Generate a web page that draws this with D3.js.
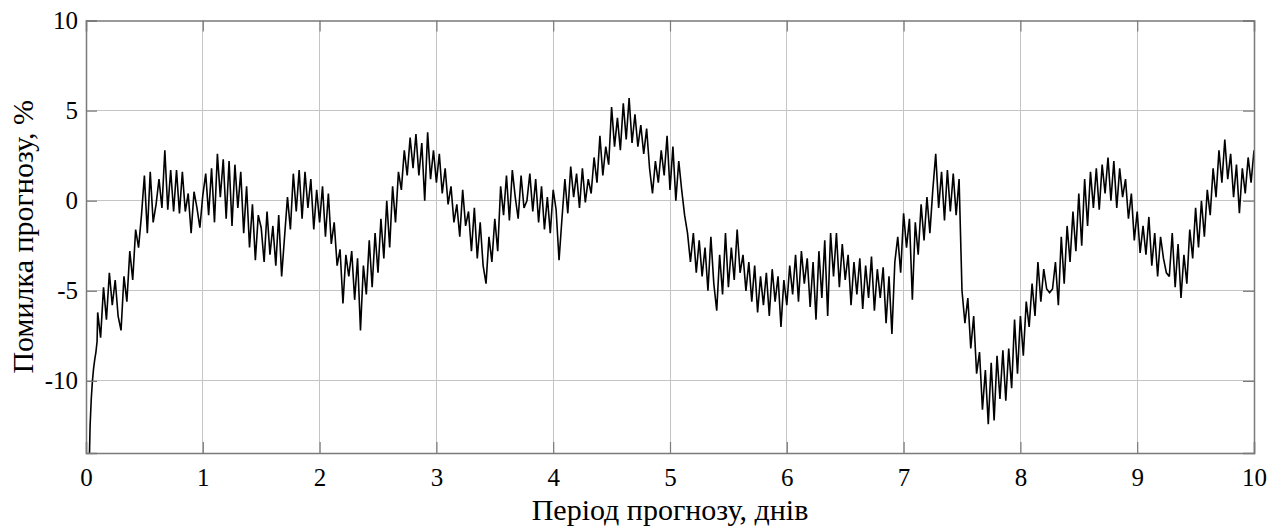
<!DOCTYPE html>
<html>
<head>
<meta charset="utf-8">
<script src="https://cdn.jsdelivr.net/npm/d3@7"></script>
<style>
  html, body { margin: 0; padding: 0; background: #fff; }
  svg { display: block; }
  text { font-family: "Liberation Serif", "Times New Roman", serif; fill: #000; }
</style>
</head>
<body>
<svg id="chart" width="1269" height="526"></svg>
<script>
// ---------------- data ----------------
const xTicks = [0, 1, 2, 3, 4, 5, 6, 7, 8, 9, 10];
const yTicks = [10, 5, 0, -5, -10];
const xLabel = "Період прогнозу, днів";
const yLabel = "Помилка прогнозу, %";

// initial steep start (day, error %)
const startDays = [0.03, 0.035, 0.045, 0.055, 0.065, 0.075, 0.085, 0.095];
const startErr  = [-14, -12.5, -11, -10, -9.3, -8.8, -8.4, -7.8];

// regular samples, every 0.025 day starting from day 0.1
const sampleStart = 0.1;
const sampleStep = 0.025;
const err = [
  -6.2,-7.6,-4.8,-6.6,-4.0,-5.8,-4.4,-6.4,-7.2,-4.2,-5.6,-2.8,-4.4,-1.6,-2.6,-0.8,
  1.4,-1.8,1.6,-1.2,-0.2,1.2,-0.4,2.8,-0.5,1.7,-0.6,1.7,-0.7,1.6,-0.6,0.4,-1.8,0.5,-0.4,-1.5,
  0.3,1.5,-0.8,1.8,-1.2,2.6,0.2,2.3,-1.0,2.2,-1.4,2.0,-0.4,1.6,-1.8,0.8,-2.6,-0.2,-3.3,-0.8,
  -1.5,-3.4,-0.6,-3.0,-1.4,-3.6,-0.8,-4.2,-2.0,0.2,-1.6,1.5,-0.6,1.7,-1.0,1.6,-0.4,1.2,-1.6,0.6,
  -1.2,0.8,-2.0,0.4,-2.4,-1.2,-3.6,-2.7,-5.7,-3.0,-4.2,-2.8,-5.5,-3.2,-7.2,-3.6,-5.2,-2.2,-4.8,-1.8,
  -4.0,-1.0,-3.2,0.0,-2.6,0.8,-1.2,1.6,0.6,2.8,1.4,3.5,1.8,3.7,1.4,3.2,0.0,3.8,1.2,2.8,
  1.0,2.6,0.4,1.8,-0.2,0.8,-1.2,-0.2,-2.0,0.6,-1.4,-0.6,-2.8,-0.4,-3.2,-1.2,-3.6,-4.6,-2.0,-3.4,
  -1.0,-2.8,0.8,-0.8,1.4,-1.1,1.7,0.2,-1.0,1.4,-0.4,0.0,1.5,-0.6,1.2,-1.2,0.8,-1.6,0.2,-1.8,
  0.6,-0.5,-3.3,-1.0,1.2,-0.7,1.9,0.2,1.5,-0.4,1.8,-0.1,1.2,0.4,2.4,1.0,3.6,1.4,3.0,2.0,
  5.2,3.0,4.6,2.8,5.4,3.4,5.7,3.2,4.8,3.0,4.2,2.6,4.0,1.8,0.4,2.2,1.0,2.8,1.4,3.6,
  0.6,3.0,0.0,2.2,0.6,-0.8,-1.8,-3.4,-1.8,-4.0,-2.2,-4.2,-2.6,-5.0,-2.0,-4.6,-6.1,-3.0,-5.2,-1.8,
  -4.8,-2.6,-4.4,-1.6,-4.0,-3.0,-5.0,-3.4,-5.6,-3.6,-6.2,-4.2,-5.8,-4.0,-6.4,-3.8,-5.6,-4.2,-7.0,-4.4,
  -5.8,-3.6,-5.2,-3.0,-5.6,-2.8,-4.6,-3.2,-5.9,-3.4,-6.6,-2.8,-5.4,-2.2,-6.4,-1.8,-4.2,-1.8,-4.8,-2.4,
  -4.4,-3.0,-5.8,-3.4,-5.2,-3.2,-6.0,-3.6,-5.4,-3.1,-6.1,-3.8,-5.4,-3.7,-6.8,-4.2,-7.4,-3.4,-2.0,-4.0,
  -0.7,-2.6,-1.0,-5.5,-1.2,-3.0,-0.2,-2.2,0.2,-1.8,0.6,2.6,-0.4,1.6,-1.1,1.7,-0.6,1.5,-0.8,1.2,
  -5.0,-6.8,-5.4,-8.2,-6.4,-9.6,-8.4,-11.6,-9.4,-12.4,-9.0,-12.2,-8.6,-11.0,-8.3,-11.1,-8.2,-10.4,-6.6,-9.6,
  -6.4,-8.6,-5.6,-7.0,-4.6,-6.4,-3.4,-5.6,-3.8,-4.9,-5.1,-4.9,-3.4,-5.8,-2.0,-4.6,-1.4,-3.4,-0.6,-2.8,
  0.4,-2.5,1.2,-1.4,1.6,-0.4,1.8,-0.5,2.0,0.4,2.4,0.0,2.2,-0.4,1.8,0.2,1.2,-1.0,0.4,-2.2,
  -0.6,-2.9,-1.4,-3.0,-0.9,-3.6,-1.8,-4.2,-2.0,-3.2,-4.0,-4.2,-1.8,-4.8,-2.4,-5.4,-3.0,-4.6,-1.6,-3.2,
  -0.4,-2.6,0.0,-2.0,0.6,-0.8,1.8,0.2,2.8,1.0,3.4,1.2,2.6,0.2,2.0,-0.7,1.8,0.4,2.4,1.0,
  2.8
];

// ---------------- layout ----------------
const W = 1269, H = 526;
const m = { left: 86, right: 15, top: 20.5, bottom: 73 };
const pw = W - m.left - m.right, ph = H - m.top - m.bottom;

const svg = d3.select("#chart");
const g = svg.append("g").attr("transform", `translate(${m.left},${m.top})`);

const x = d3.scaleLinear().domain([0, 10]).range([0, pw]);
const y = d3.scaleLinear().domain([-14, 10]).range([ph, 0]);

// grid
g.append("g").selectAll("line").data(xTicks.slice(1, -1)).join("line")
  .attr("x1", d => x(d)).attr("x2", d => x(d)).attr("y1", 0).attr("y2", ph)
  .attr("stroke", "#c4c4c4").attr("stroke-width", 1).attr("shape-rendering", "crispEdges");
g.append("g").selectAll("line").data(yTicks.filter(v => v > -14 && v < 10)).join("line")
  .attr("y1", d => y(d)).attr("y2", d => y(d)).attr("x1", 0).attr("x2", pw)
  .attr("stroke", "#c4c4c4").attr("stroke-width", 1).attr("shape-rendering", "crispEdges");

// data line
const pts = startDays.map((d, i) => [d, startErr[i]])
  .concat(err.map((v, i) => [sampleStart + i * sampleStep, v]));
g.append("path").datum(pts)
  .attr("fill", "none").attr("stroke", "#000").attr("stroke-width", 1.6)
  .attr("stroke-linejoin", "miter").attr("stroke-miterlimit", 2)
  .attr("d", d3.line().x(d => x(d[0])).y(d => y(d[1])));

// axes with inward ticks
const tickLen = 11;
const axColor = "#7a7a7a";
const fmt = d => String(d);
const axB = g.append("g").attr("transform", `translate(0,${ph})`)
  .call(d3.axisBottom(x).tickValues(xTicks).tickSize(-tickLen).tickPadding(15).tickFormat(fmt));
const axT = g.append("g")
  .call(d3.axisTop(x).tickValues(xTicks).tickSize(-tickLen).tickFormat(""));
const axL = g.append("g")
  .call(d3.axisLeft(y).tickValues(yTicks).tickSize(-tickLen).tickPadding(8).tickFormat(fmt));
const axR = g.append("g").attr("transform", `translate(${pw},0)`)
  .call(d3.axisRight(y).tickValues(yTicks).tickSize(-tickLen).tickFormat(""));

[axB, axT, axL, axR].forEach(a => {
  a.selectAll("path.domain").attr("stroke", axColor).attr("stroke-width", 1.5);
  a.selectAll(".tick line").attr("stroke", axColor).attr("stroke-width", 1.2);
  a.selectAll("text").attr("font-family", '"Liberation Serif", "Times New Roman", serif')
    .attr("font-size", 25).attr("fill", "#000");
});

// axis labels
svg.append("text")
  .attr("x", m.left + pw / 2).attr("y", 520)
  .attr("text-anchor", "middle").attr("font-size", 30)
  .text(xLabel);
svg.append("text")
  .attr("transform", `translate(33,${m.top + ph / 2}) rotate(-90)`)
  .attr("text-anchor", "middle").attr("font-size", 30)
  .text(yLabel);
</script>
</body>
</html>
